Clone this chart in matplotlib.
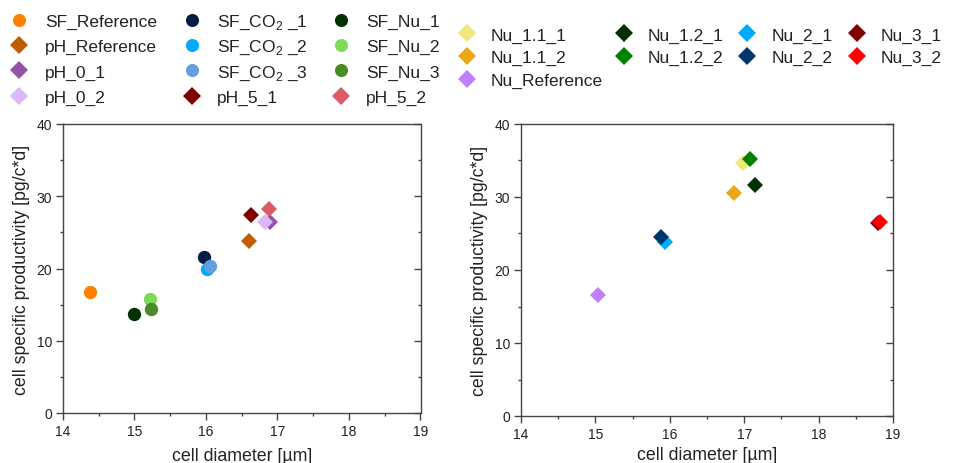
import matplotlib
matplotlib.use("Agg")
import matplotlib.pyplot as plt
from matplotlib.lines import Line2D

plt.rcParams['font.family'] = ['Liberation Sans', 'DejaVu Sans']
plt.rcParams['mathtext.fontset'] = 'custom'
plt.rcParams['mathtext.rm'] = 'Liberation Sans'

# ---- left panel data ----
left_labels = ["SF_Reference", "pH_Reference", "pH_0_1", "pH_0_2",
               "SF_CO$_2$ _1", "SF_CO$_2$ _2", "SF_CO$_2$ _3", "pH_5_1",
               "SF_Nu_1", "SF_Nu_2", "SF_Nu_3", "pH_5_2"]
left_x = [14.38, 16.60, 16.89, 16.82, 15.97, 16.01, 16.05, 16.63, 15.00, 15.22, 15.23, 16.88]
left_y = [16.8, 23.8, 26.4, 26.5, 21.6, 20.0, 20.4, 27.4, 13.7, 15.8, 14.4, 28.3]
left_markers = ["o", "D", "D", "D", "o", "o", "o", "D", "o", "o", "o", "D"]
left_colors = ["#FF8000", "#BF5B00", "#9452A8", "#DDB8F8",
               "#021E46", "#00AAFF", "#639EE0", "#800000",
               "#013100", "#7DD957", "#498B27", "#DA5A66"]
# draw order (back to front)
left_order = [0, 8, 9, 10, 4, 5, 6, 1, 7, 2, 3, 11]

# ---- right panel data ----
right_labels = ["Nu_1.1_1", "Nu_1.1_2", "Nu_Reference",
                "Nu_1.2_1", "Nu_1.2_2",
                "Nu_2_1", "Nu_2_2",
                "Nu_3_1", "Nu_3_2"]
right_x = [16.99, 16.86, 15.03, 17.14, 17.08, 15.93, 15.88, 18.80, 18.82]
right_y = [34.6, 30.5, 16.6, 31.6, 35.2, 23.8, 24.5, 26.4, 26.6]
right_colors = ["#F0E67A", "#E8A619", "#BF7FFF", "#013100", "#008000",
                "#00AAFF", "#00366E", "#800000", "#FF0000"]
right_order = [2, 5, 6, 1, 0, 4, 3, 7, 8]

x_ticks = [14, 15, 16, 17, 18, 19]
y_ticks = [0, 10, 20, 30, 40]

W, H = 969, 464
fig = plt.figure(figsize=(W / 100, H / 100), dpi=100)
TXT = "#222222"
SPN = "#444444"

def px_axes(x0, y0, x1, y1):
    return fig.add_axes([x0 / W, 1 - y1 / H, (x1 - x0) / W, (y1 - y0) / H])

axL = px_axes(63, 125, 420.5, 414)
axR = px_axes(521, 125, 893, 417)

ms = {"o": 9.6, "D": 7.8}
for i in left_order:
    axL.plot(left_x[i], left_y[i], linestyle="none", marker=left_markers[i],
             markersize=ms[left_markers[i]], color=left_colors[i],
             markeredgewidth=0)
for i in right_order:
    axR.plot(right_x[i], right_y[i], linestyle="none", marker="D",
             markersize=ms["D"], color=right_colors[i], markeredgewidth=0)

for ax in (axL, axR):
    ax.set_xlim(14, 19)
    ax.set_ylim(0, 40)
    ax.set_xticks(x_ticks)
    ax.set_yticks(y_ticks)
    ax.set_xticks([14.5, 15.5, 16.5, 17.5, 18.5], minor=True)
    ax.set_yticks([5, 15, 25, 35], minor=True)
    ax.tick_params(which="major", direction="out", length=5, width=1,
                   labelsize=10, colors=SPN, labelcolor=TXT, pad=3)
    ax.tick_params(which="minor", direction="out", length=2.5, width=1,
                   colors=SPN)
    ax.tick_params(axis="y", which="both", right=True, labelright=False)
    for s in ax.spines.values():
        s.set_color(SPN)
        s.set_linewidth(1.0)
    ax.set_xlabel("cell diameter [µm]", fontsize=12.8, color=TXT)
    ax.set_ylabel("cell specific productivity [pg/c*d]", fontsize=12.8,
                  color=TXT)

# right-side ticks point inward
for ax in (axL, axR):
    for t in ax.yaxis.get_major_ticks() + ax.yaxis.get_minor_ticks():
        t.tick2line.set_marker(matplotlib.markers.TICKLEFT)

axL.xaxis.set_label_coords(0.5, -34 / 289)
axR.xaxis.set_label_coords(0.5, -30 / 292)
axL.yaxis.set_label_coords(-33 / 357.5, 0.5)
axR.yaxis.set_label_coords(-33 / 372, 0.5)

# ---- legends (built manually for exact row alignment) ----
LEG_FS = 12.5
base_off = 0.36 * LEG_FS * 100 / 72

def legend_entry(mx, my, tx, marker, color, label, msize):
    fig.add_artist(Line2D([mx / W], [1 - my / H], transform=fig.transFigure,
                          linestyle="none", marker=marker, markersize=msize,
                          color=color, markeredgewidth=0))
    fig.text(tx / W, 1 - (my + base_off) / H, label, fontsize=LEG_FS,
             color=TXT, ha="left", va="baseline")

left_rows = [20.5, 45.8, 71.2, 96.6]
left_mx = [19.3, 192, 341]
left_tx = [45, 217, 365.7]
for k in range(len(left_labels)):
    col, row = divmod(k, 4)
    m = left_markers[k]
    legend_entry(left_mx[col], left_rows[row], left_tx[col], m, left_colors[k],
                 left_labels[k], 9.4 if m == "o" else 8.7)

right_rows = [34.3, 57.0, 79.7]
right_mx = [466.5, 623.5, 747, 856.5]
right_tx = [491, 648, 772, 881]
right_cols = [[0, 1, 2], [3, 4], [5, 6], [7, 8]]
for col, idxs in enumerate(right_cols):
    for row, k in enumerate(idxs):
        legend_entry(right_mx[col], right_rows[row], right_tx[col], "D",
                     right_colors[k], right_labels[k], 8.7)

fig.savefig("out.png", dpi=100)
